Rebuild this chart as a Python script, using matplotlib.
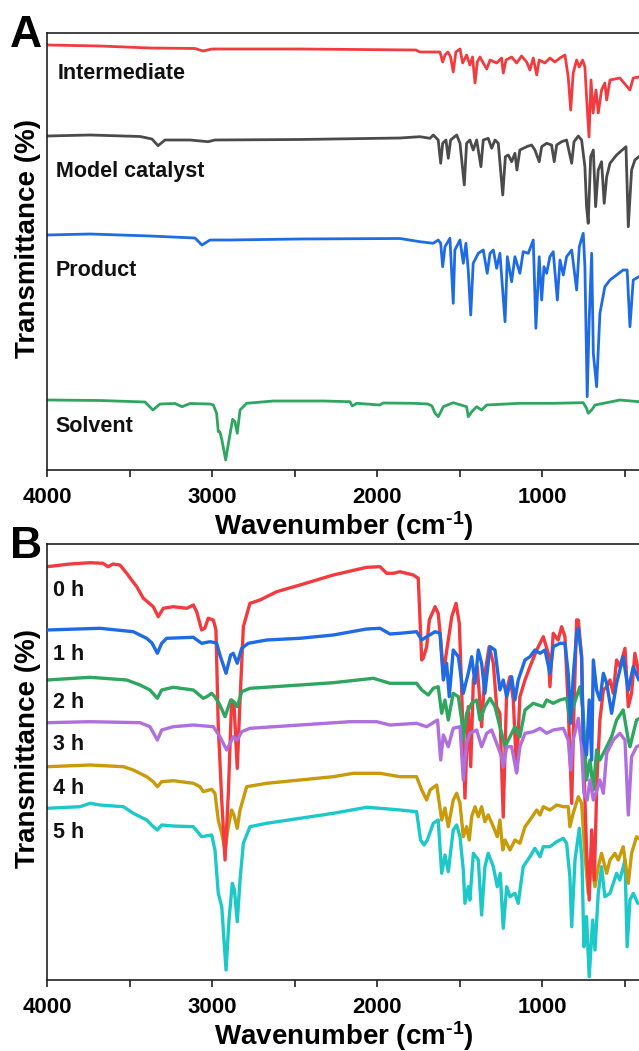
import matplotlib
matplotlib.use("Agg")
import matplotlib.pyplot as plt
from matplotlib.ticker import MultipleLocator

plt.rcParams['font.family'] = ['Liberation Sans', 'DejaVu Sans']
plt.rcParams['font.weight'] = 'bold'
plt.rcParams['mathtext.fontset'] = 'custom'
plt.rcParams['mathtext.rm'] = 'Liberation Sans:bold'
plt.rcParams['mathtext.it'] = 'Liberation Sans:bold'
plt.rcParams['mathtext.bf'] = 'Liberation Sans:bold'

# ---------------- Panel A data (wavenumber cm-1, offset transmittance a.u.) ----------------
inter_wn = [4000, 3679, 3376, 3103, 3055, 3000, 2467, 1764, 1740, 1618, 1602, 1588, 1570, 1554, 1538, 1522,
            1497, 1481, 1457, 1437, 1421, 1406, 1392, 1376, 1356, 1335, 1315, 1275, 1245, 1235, 1218, 1184,
            1154, 1124, 1093, 1073, 1053, 1032, 1017, 982, 952, 922, 891, 861, 841, 826, 811, 790, 774, 754,
            740, 730, 715, 703, 690, 673, 659, 639, 619, 608, 588, 528, 467, 447, 413, 400]
inter_t = [425, 424, 422, 421.5, 419, 421, 421, 420, 418, 418, 408, 415, 418, 413, 398, 418,
           421, 407, 415, 405, 413, 387, 408, 413, 407, 401, 410, 407, 412, 397, 410, 413,
           407, 414, 408, 400, 412, 395, 410, 407, 412, 408, 412, 415, 393, 360, 397, 410, 403, 410,
           403, 373, 333, 390, 357, 380, 357, 380, 387, 370, 390, 392, 380, 392, 393, 393]

model_wn = [4000, 3739, 3436, 3364, 3327, 3285, 3133, 3024, 2982, 2467, 1861, 1740, 1679, 1659, 1629, 1614,
            1602, 1582, 1568, 1554, 1517, 1497, 1471, 1457, 1437, 1417, 1396, 1370, 1356, 1326, 1305, 1285,
            1265, 1238, 1222, 1204, 1184, 1164, 1152, 1134, 1093, 1063, 1043, 1017, 1002, 972, 942, 926, 911,
            881, 851, 820, 806, 780, 760, 740, 730, 720, 705, 689, 675, 659, 639, 623, 608, 588, 548, 491,
            477, 457, 437, 413, 400]
model_t = [334, 335, 333.5, 331, 324.3, 330, 330, 328.3, 330, 330.5, 332, 333.3, 331.7, 335, 330, 306.7,
           326.7, 330, 311.7, 330, 335, 326.7, 285, 326.7, 330, 320, 330, 303.3, 330, 331.7, 321.7, 330,
           326.7, 275, 313.3, 315, 308.3, 316.7, 300, 320, 323.3, 325, 320, 308.3, 323.3, 326.7, 325, 308.3, 325,
           328.3, 330, 306.7, 328.3, 334, 330, 303.3, 263.3, 246.7, 313.3, 320, 263.3, 300, 308.3, 266.7, 293.3,
           306.7, 315, 323.3, 243.3, 300, 310, 313.3, 314]

product_wn = [4000, 3739, 3376, 3103, 3061, 3012, 2891, 2467, 1861, 1740, 1659, 1629, 1614, 1602, 1588, 1558,
              1538, 1528, 1497, 1477, 1461, 1447, 1432, 1417, 1386, 1356, 1332, 1315, 1295, 1275, 1255, 1224,
              1210, 1184, 1164, 1134, 1114, 1083, 1053, 1037, 1017, 1002, 988, 972, 952, 932, 907, 891, 871,
              851, 820, 790, 774, 750, 740, 726, 714, 699, 689, 669, 649, 619, 588, 548, 508, 484, 467, 447,
              413, 400]
product_t = [235, 236, 234, 232, 225, 230, 230, 231, 231.5, 228.3, 226.7, 230, 226.7, 203.3, 223.3, 231.7,
             166.7, 220, 230, 206.7, 226.7, 200, 155, 206.7, 216.7, 220, 196.7, 216.7, 220, 201.7, 216.7, 148.3,
             213.3, 188.3, 213.3, 196.7, 218.3, 216.7, 230, 141.7, 213.3, 170, 203.3, 196.7, 213.3, 218.3, 170, 210, 195,
             213.3, 220, 180, 223.3, 236.7, 203.3, 73.3, 150, 216.7, 116.7, 83.3, 156.7, 183.3, 190, 195, 200, 200, 143.3, 190,
             193.3, 193.3]

solvent_wn = [4000, 3679, 3406, 3358, 3315, 3224, 3182, 3133, 3012, 2992, 2972, 2962, 2952, 2940, 2917, 2897,
              2875, 2861, 2847, 2830, 2790, 2629, 2325, 2164, 2150, 2123, 1982, 1964, 1780, 1691, 1667, 1649,
              1629, 1618, 1598, 1538, 1457, 1447, 1426, 1396, 1366, 1335, 1134, 932, 750, 730, 720, 699, 679,
              608, 528, 413, 400]
solvent_t = [70, 69.5, 68, 60, 66, 66.5, 63.3, 66.5, 66, 65, 56.7, 38.3, 38, 30, 10, 30,
             50.7, 48.3, 36.7, 60, 66.7, 69, 69, 68.3, 64, 66.7, 65, 67, 66.7, 66, 64, 57,
             53.3, 56.7, 63.3, 67.3, 63.3, 53.3, 58.3, 63.3, 60, 65, 66.7, 66.7, 67.3, 61.7, 56.7, 60, 65,
             67.3, 70, 68.3, 68.3]

# ---------------- Panel B data ----------------
h0_wn = [4000, 3861, 3739, 3661, 3630, 3600, 3558, 3517, 3487, 3456, 3416, 3356, 3326, 3295, 3235, 3153, 3113,
         3093, 3063, 3043, 3023, 2992, 2976, 2962, 2941, 2921, 2901, 2881, 2867, 2847, 2830, 2810, 2770, 2709,
         2608, 2467, 2265, 2063, 1982, 1941, 1901, 1861, 1780, 1750, 1729, 1719, 1699, 1683, 1648, 1629, 1614,
         1598, 1568, 1547, 1521, 1501, 1487, 1467, 1447, 1432, 1416, 1392, 1366, 1346, 1320, 1295, 1275, 1255,
         1235, 1214, 1194, 1174, 1154, 1134, 1103, 1073, 1032, 1012, 992, 962, 952, 932, 902, 881, 861, 841,
         820, 806, 790, 780, 760, 746, 730, 714, 699, 683, 667, 649, 628, 608, 588, 568, 548, 528, 497, 477,
         457, 437, 413, 400]
h0_t = [413.3, 416, 417.3, 416.7, 413.3, 416, 415, 406.7, 400, 393.3, 381.7, 373.3, 363.3, 371.7, 373.3, 371.7, 375,
        368.3, 350, 352, 361.7, 360, 350, 253.3, 180, 120, 186.7, 280, 276.7, 211.7, 280, 353.3, 376.7, 380,
        388.3, 395, 405, 412.7, 413.3, 406.7, 406.7, 408.3, 405, 401.7, 320, 322, 333.3, 360, 373.3, 366.7, 340,
        306.7, 340, 363.3, 376.7, 356.7, 290, 182, 273.3, 213.3, 300, 313.3, 253.3, 306.7, 333.3, 316.7, 273.3, 266.7,
        163, 290, 303.3, 280, 208.3, 283.3, 300, 313.3, 330, 336.7, 343.3, 326.7, 293.3, 346.7, 340, 353.3, 343.3, 273.3,
        176.7, 273.3, 360, 360, 323.3, 213.3, 130, 80, 150, 100, 200, 260, 290, 293.3, 300, 286.7, 320, 313.3, 331.7, 273.3,
        286.7, 326.7, 306.7, 306.7]

h1_wn = [4000, 3679, 3477, 3396, 3364, 3331, 3305, 3275, 3113, 3063, 3012, 2972, 2952, 2915, 2887, 2871, 2847,
         2820, 2780, 2669, 2467, 2265, 2063, 1982, 1921, 1861, 1760, 1729, 1699, 1648, 1618, 1598, 1578, 1562,
         1538, 1507, 1477, 1447, 1426, 1406, 1386, 1366, 1346, 1315, 1285, 1255, 1235, 1214, 1184, 1164, 1144,
         1103, 1073, 1043, 1012, 982, 952, 932, 891, 861, 841, 826, 811, 790, 780, 760, 750, 730, 714, 699, 689,
         669, 649, 628, 608, 578, 548, 508, 487, 477, 447, 413, 400]
h1_t = [350, 351.7, 348.3, 341.7, 337, 326.7, 336.7, 341.7, 342.7, 336.7, 338.3, 337, 325, 306.7, 325, 326.7, 316.7,
        331.7, 336.7, 340, 341.7, 345, 351, 351.7, 346, 346.7, 348.3, 340, 343.3, 348.3, 346.7, 300, 316.7, 283.3,
        330, 323.3, 286.7, 306.7, 323.3, 296.7, 330, 316.7, 286.7, 333.3, 330, 290, 300, 283.3, 303.3, 280, 300,
        320, 323.3, 330, 326.7, 330, 306.7, 333.3, 336.7, 336.7, 306.7, 256.7, 303.3, 346.7, 351.7, 323.3, 240, 225, 280, 220, 320,
        290, 280, 306.7, 296.7, 266.7, 296.7, 323.3, 300, 290, 313.3, 300, 300]

h2_wn = [4000, 3739, 3517, 3436, 3376, 3331, 3305, 3235, 3113, 3053, 3032, 3002, 2982, 2952, 2921, 2887, 2867,
         2847, 2820, 2770, 2467, 2265, 2022, 1921, 1760, 1729, 1689, 1659, 1629, 1608, 1588, 1568, 1538, 1507,
         1487, 1477, 1457, 1426, 1396, 1376, 1346, 1315, 1285, 1255, 1224, 1194, 1164, 1134, 1103, 1053, 992,
         972, 932, 891, 851, 831, 811, 770, 750, 730, 709, 689, 669, 649, 608, 578, 548, 508, 477, 467, 427, 400]
h2_t = [300, 302.7, 300, 295, 290, 281.7, 290, 292.7, 290, 281.7, 283.3, 286.7, 283, 275, 263.3, 280, 278.3,
        273.3, 288.3, 291.7, 295, 297.3, 301.7, 296.7, 296.7, 290, 285, 291.7, 293.3, 266.7, 280, 260, 286.7, 283.3,
        260, 240, 266.7, 276.7, 280, 260, 273.3, 281.7, 273.3, 253.3, 233.3, 243.3, 253.3, 243.3, 270, 276.7, 273.3,
        280, 276.7, 280, 281.7, 260, 273.3, 293.3, 266.7, 200, 220, 190, 230, 220, 233.3, 243.3, 260, 270, 240, 233.3, 260, 262]

h3_wn = [4000, 3739, 3436, 3376, 3331, 3305, 3235, 3113, 2992, 2952, 2911, 2871, 2847, 2820, 2770, 2467, 2164,
         2002, 1921, 1760, 1699, 1633, 1614, 1598, 1568, 1538, 1497, 1477, 1457, 1437, 1396, 1366, 1335, 1305,
         1275, 1245, 1235, 1214, 1184, 1154, 1134, 1103, 1053, 1012, 972, 932, 871, 841, 826, 811, 780, 760,
         746, 726, 709, 689, 667, 649, 628, 608, 568, 528, 497, 477, 457, 427, 400]
h3_t = [257.3, 258.3, 257.3, 253.3, 240, 250, 253.3, 255, 253.3, 243.3, 230, 243.3, 240, 248.3, 251.7, 255, 258.3,
        258.3, 255, 256.7, 253.3, 260, 220, 245, 233.3, 251.7, 253.3, 200, 236.7, 246.7, 250, 233.3, 246.7, 250,
        236.7, 223.3, 213, 233.3, 233.3, 207, 233.3, 246.7, 248.3, 251.7, 246.7, 250, 251.7, 240, 210, 240, 261.7, 233.3,
        186.7, 180, 200, 180, 190, 200, 186.7, 226.7, 240, 246.7, 240, 165, 223.3, 233.3, 235]

h4_wn = [4000, 3739, 3537, 3477, 3396, 3356, 3331, 3305, 3235, 3113, 3073, 3053, 3002, 2982, 2962, 2941, 2921,
         2901, 2881, 2867, 2847, 2830, 2790, 2669, 2467, 2265, 2144, 1982, 1861, 1760, 1729, 1699, 1679, 1638,
         1608, 1588, 1568, 1538, 1517, 1497, 1477, 1457, 1441, 1426, 1406, 1386, 1366, 1346, 1326, 1295, 1271,
         1255, 1238, 1224, 1194, 1164, 1134, 1103, 1073, 1032, 1012, 992, 952, 911, 871, 841, 831, 811, 780,
         760, 740, 720, 699, 679, 659, 639, 608, 588, 558, 538, 508, 477, 457, 427, 400]
h4_t = [213.3, 215, 213.3, 210, 203.3, 198.3, 193.3, 198.3, 199.3, 196.7, 193.3, 188.3, 190.7, 186.7, 160, 146.7, 130,
        153.3, 170, 165, 151.7, 170, 193.3, 196.7, 200, 203.3, 206.7, 206.7, 203.3, 203.3, 190, 180, 190, 195,
        160, 172, 153.3, 180, 186.7, 176.7, 143.3, 153.3, 140, 163.3, 173.3, 163.3, 173.3, 158.3, 165, 153.3, 143.3,
        160, 130, 140, 130, 140, 136.7, 153.3, 160, 170, 165, 173.3, 170, 175, 173.3, 173.3, 153.3, 166.7, 183.3,
        176.7, 126.7, 86.7, 120, 93.3, 113.3, 126.7, 106.7, 120, 126.7, 120, 133.3, 96.7, 126.7, 143.3, 140]

h5_wn = [4000, 3800, 3739, 3679, 3537, 3477, 3396, 3356, 3331, 3305, 3235, 3113, 3063, 3002, 2982, 2962, 2941,
         2915, 2897, 2877, 2864, 2847, 2830, 2810, 2770, 2669, 2467, 2265, 2063, 1982, 1861, 1760, 1736, 1715,
         1695, 1659, 1629, 1608, 1588, 1568, 1538, 1517, 1497, 1477, 1467, 1447, 1437, 1416, 1386, 1366, 1346,
         1326, 1295, 1271, 1253, 1235, 1214, 1194, 1164, 1144, 1114, 1073, 1043, 1012, 992, 952, 911, 871, 851,
         831, 820, 800, 774, 758, 746, 730, 714, 693, 679, 659, 639, 619, 588, 548, 528, 497, 484, 467, 447, 419, 400]
h5_t = [171.7, 173.3, 176.7, 175, 173.3, 166.7, 160, 153.3, 150, 155, 154, 153.3, 143.3, 145, 130, 86.7, 73.3,
        10, 60, 96.7, 90, 58.3, 100, 136.7, 153.3, 156.7, 161.7, 166.7, 172.7, 171.7, 170, 168.3, 140, 135,
        140, 156.7, 160, 106.7, 125, 108.3, 150, 155, 143.3, 110, 76.7, 93.3, 80, 126.7, 120, 65, 113.3,
        126.7, 113.3, 93.3, 106.7, 51.7, 93.3, 83.3, 86.7, 76.7, 113.3, 123.3, 131.7, 123.3, 133.3, 133.3, 138.3, 141.7, 136.7,
        103.3, 53.3, 120, 151.7, 120, 33.3, 63.3, 3.3, 60, 30, 86.7, 113.3, 83.3, 86.7, 106.7, 100, 120, 33.3, 80, 86.7, 76.7, 77]

panel_a = [("Intermediate", inter_wn, inter_t, "#F23B3F", 397, 3933),
           ("Model catalyst", model_wn, model_t, "#4B4B4B", 298, 3945),
           ("Product", product_wn, product_t, "#1F6BE3", 200, 3945),
           ("Solvent", solvent_wn, solvent_t, "#2EA65F", 44, 3951)]

panel_b = [("5 h", h5_wn, h5_t, "#1DC8C8", 148, 1),
           ("4 h", h4_wn, h4_t, "#C99A09", 191, 2),
           ("0 h", h0_wn, h0_t, "#F23B3F", 389, 3),
           ("2 h", h2_wn, h2_t, "#2EA65F", 278, 4),
           ("3 h", h3_wn, h3_t, "#B06FDE", 236, 5),
           ("1 h", h1_wn, h1_t, "#1F6BE3", 326, 6)]

fig = plt.figure(figsize=(6.39, 10.51), dpi=100)
axA = fig.add_axes([47/639, (1051-470)/1051, 594/639, 437/1051])
axB = fig.add_axes([47/639, (1051-980)/1051, 594/639, 436/1051])


def style(ax):
    ax.set_xlim(4000, 400)
    ax.xaxis.set_major_locator(MultipleLocator(1000))
    ax.xaxis.set_minor_locator(MultipleLocator(500))
    ax.set_yticks([])
    for s in ax.spines.values():
        s.set_linewidth(1.2)
        s.set_color('#222222')
    ax.tick_params(axis='x', which='both', direction='out', length=5, width=1.2,
                   color='#222222', labelsize=16, pad=7)
    for lab in ax.get_xticklabels():
        lab.set_fontweight('bold')
    ax.set_xlabel(r'Wavenumber (cm$^{\text{-1}}$)', fontsize=20, fontweight='bold', labelpad=1)


for name, wn, t, c, ly, lx in panel_a:
    axA.plot(wn, t, color=c, lw=2.0, solid_joinstyle='round')
    axA.text(lx, ly, name, fontsize=15.5, fontweight='bold', ha='left', va='center', color='#111111')
axA.set_ylim(0, 437)
style(axA)

for name, wn, t, c, ly, z in panel_b:
    axB.plot(wn, t, color=c, lw=2.4, zorder=2 + z * 0.1, solid_joinstyle='round')
    axB.text(3964, ly, name, fontsize=15.5, fontweight='bold', ha='left', va='center', color='#111111')
axB.set_ylim(0, 436)
style(axB)

fig.text(10/639, 1 - 47/1051, "A", fontsize=32, fontweight='bold', ha='left', va='baseline')
fig.text(10/639, 1 - 558/1051, "B", fontsize=32, fontweight='bold', ha='left', va='baseline')
fig.text(28/639, 1 - 238/1051, "Transmittance (%)", fontsize=20, fontweight='bold',
         rotation=90, ha='center', va='center')
fig.text(28/639, 1 - 748/1051, "Transmittance (%)", fontsize=20, fontweight='bold',
         rotation=90, ha='center', va='center')

fig.savefig("out.png", dpi=100)
